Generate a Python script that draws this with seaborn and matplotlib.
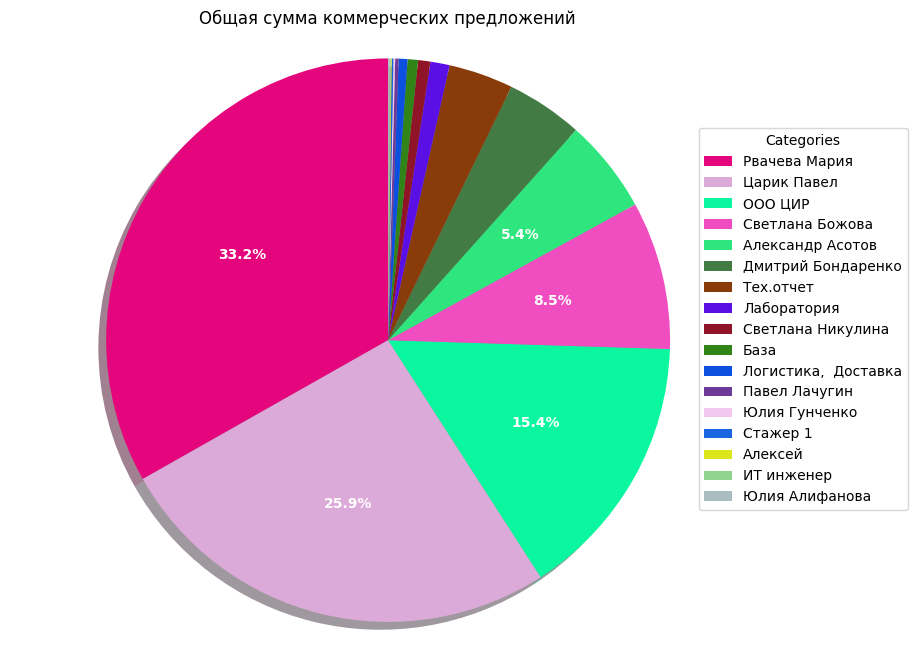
import matplotlib
matplotlib.use('Agg')
import matplotlib.pyplot as plt
import seaborn as sns

sns.set_style("white")
plt.rcParams['font.family'] = ['DejaVu Sans']
plt.rcParams['text.color'] = 'black'

categories = ['Рвачева Мария', 'Царик Павел', 'ООО ЦИР', 'Светлана Божова',
              'Александр Асотов', 'Дмитрий Бондаренко', 'Тех.отчет', 'Лаборатория',
              'Светлана Никулина', 'База', 'Логистика,  Доставка', 'Павел Лачугин',
              'Юлия Гунченко', 'Стажер 1', 'Алексей', 'ИТ инженер', 'Юлия Алифанова']
values = [33.2, 25.9, 15.4, 8.5, 5.4, 4.4, 3.7, 1.1, 0.7, 0.6, 0.5, 0.2,
          0.1, 0.1, 0.05, 0.05, 0.1]
colors = ['#e5067d', '#dcaad9', '#0af7a0', '#ef4dc0', '#2ee57e', '#437b45',
          '#8a3b0a', '#5a10e5', '#901428', '#318518', '#0c50e0', '#6e3a9a',
          '#f2c7f0', '#1a66e0', '#dbe61c', '#90d38f', '#a9bcbf']

fig = plt.figure(figsize=(9.23, 6.58), dpi=100)
ax = fig.add_axes([0.0845, 0.012, 0.672, 0.942])
wedges, texts, autotexts = ax.pie(
    values, colors=colors, startangle=90, shadow=True,
    wedgeprops={'linewidth': 0},
    autopct=lambda p: f'{p:.1f}%' if p > 5 else '', pctdistance=0.6,
    textprops={'color': 'white', 'fontweight': 'bold', 'fontsize': 10})
ax.axis('equal')
fig.text(0.42, 0.972, 'Общая сумма коммерческих предложений', fontsize=12,
         ha='center', va='center', color='black')
fig.legend(wedges, categories, title='Categories', loc='center right',
           bbox_to_anchor=(0.991, 0.515), fontsize=10)
fig.savefig('out.png')
